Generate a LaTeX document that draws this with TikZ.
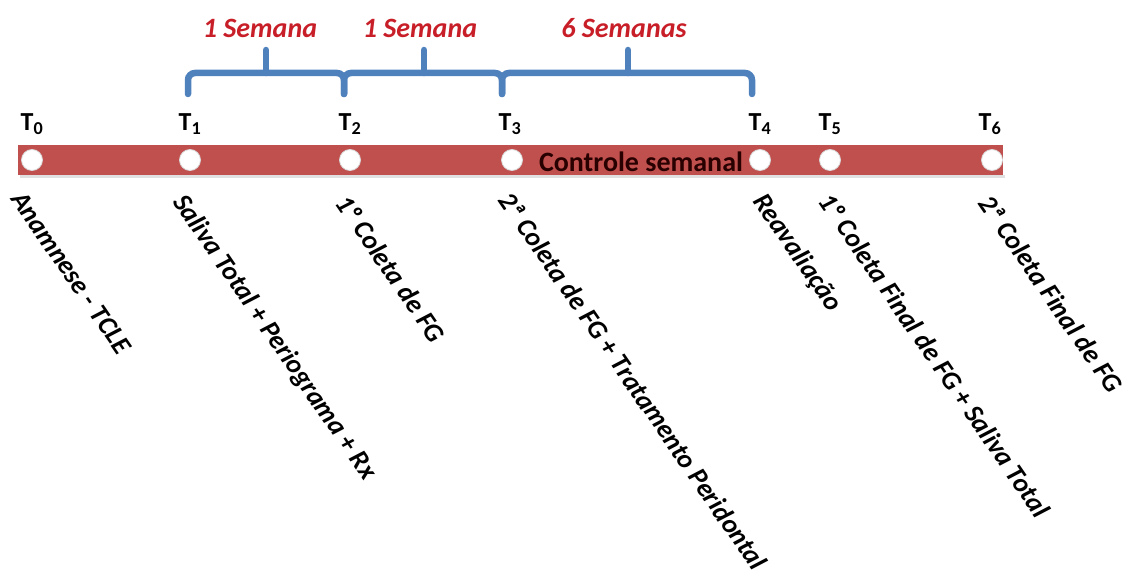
\documentclass[tikz,border=0pt]{standalone}
\usepackage{fontspec}
\setmainfont{Carlito}
\definecolor{barred}{RGB}{192,80,77}
\definecolor{braceblue}{RGB}{79,129,189}
\definecolor{weekred}{RGB}{200,30,40}
\definecolor{bartext}{RGB}{40,0,0}
\tikzset{
  stopdot/.style={circle, fill=white, draw=black!15, line width=0.8pt, minimum size=21pt, inner sep=0pt},
  tlabel/.style={font=\bfseries\fontsize{26}{26}\selectfont, inner sep=0pt},
  stage/.style={font=\bfseries\itshape\fontsize{27}{27}\selectfont, rotate=-55.5, anchor=north west, inner sep=0pt},
  week/.style={font=\bfseries\itshape\fontsize{28}{28}\selectfont, text=weekred, inner sep=0pt},
  wbrace/.style={draw=braceblue, line width=6.5pt, rounded corners=7pt, line cap=round}
}
\begin{document}
\begin{tikzpicture}[x=1pt,y=-1pt]
\useasboundingbox (0,0) rectangle (1128,586);

% timeline bar
\fill[black!12] (20,175) rectangle (1005,178);
\fill[barred] (18,145) rectangle (1003,175);
\node[font=\bfseries\fontsize{28}{28}\selectfont, text=bartext, inner sep=0pt] (ctrl) at (641,162) {Controle semanal};

% time points
\node[stopdot] (t0) at (32,160) {};
\node[stopdot] (t1) at (190,160) {};
\node[stopdot] (t2) at (350,160) {};
\node[stopdot] (t3) at (512,160) {};
\node[stopdot] (t4) at (760,160) {};
\node[stopdot] (t5) at (830,160) {};
\node[stopdot] (t6) at (992,160) {};

\node[tlabel] (l0) at (32,124) {T\textsubscript{0}};
\node[tlabel] (l1) at (190,124) {T\textsubscript{1}};
\node[tlabel] (l2) at (350,124) {T\textsubscript{2}};
\node[tlabel] (l3) at (510,124) {T\textsubscript{3}};
\node[tlabel] (l4) at (760,124) {T\textsubscript{4}};
\node[tlabel] (l5) at (830,124) {T\textsubscript{5}};
\node[tlabel] (l6) at (990,124) {T\textsubscript{6}};

% braces
\draw[wbrace] (188,94) -- (188,73) -- (344,73) -- (344,94);
\draw[wbrace] (266,73) -- (266,50);
\draw[wbrace] (344,94) -- (344,73) -- (502,73) -- (502,94);
\draw[wbrace] (424,73) -- (424,50);
\draw[wbrace] (502,94) -- (502,73) -- (752,73) -- (752,94);
\draw[wbrace] (628,73) -- (628,50);

\node[week] (w1) at (260,28) {1 Semana};
\node[week] (w2) at (420,28) {1 Semana};
\node[week] (w3) at (624,28) {6 Semanas};

% stage descriptions
\node[stage] (s0) at (25,189) {Anamnese - TCLE};
\node[stage] (s1) at (188,191) {Saliva Total + Periograma + Rx};
\node[stage] (s2) at (350,192) {1º Coleta de FG};
\node[stage] (s3) at (513,189) {2ª Coleta de FG + Tratamento Peridontal};
\node[stage] (s4) at (768,190) {Reavaliação};
\node[stage] (s5) at (833,190) {1º Coleta Final de FG + Saliva Total};
\node[stage] (s6) at (993,192) {2ª Coleta Final de FG};
\end{tikzpicture}
\end{document}
